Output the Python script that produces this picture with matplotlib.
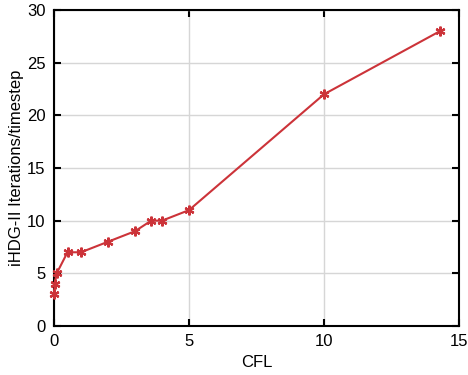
import matplotlib.pyplot as plt

plt.rcParams["font.family"] = ["Liberation Sans", "DejaVu Sans"]

# CFL number vs. nonlinear iterations per timestep
cfl = [0.01, 0.02, 0.1, 0.5, 1, 2, 3, 3.6, 4, 5, 10, 14.3]
iterations = [3, 4, 5, 7, 7, 8, 9, 10, 10, 11, 22, 28]

fig = plt.figure(figsize=(4.68, 3.75), dpi=100)
ax = fig.add_axes([54 / 468, 49 / 375, 405 / 468, 316 / 375])

ax.plot(cfl, iterations, color="#cc3339", linewidth=1.5,
        marker=(6, 2, 0), markersize=7, markeredgewidth=1.6,
        markeredgecolor="#cc3339", clip_on=False, zorder=3)

ax.set_xlim(0, 15)
ax.set_ylim(0, 30)
ax.set_xticks([0, 5, 10, 15])
ax.set_yticks([0, 5, 10, 15, 20, 25, 30])
ax.grid(True, color="#d6d6d6", linewidth=1)
ax.set_axisbelow(True)

for side in ax.spines.values():
    side.set_linewidth(1.5)
ax.tick_params(direction="in", length=5, width=1.5, top=True, right=True,
               labelsize=12, pad=6)

ax.set_xlabel("CFL", fontsize=12, labelpad=4)
ax.set_ylabel("iHDG-II Iterations/timestep", fontsize=12, labelpad=2)

fig.savefig("out.png", dpi=100)
